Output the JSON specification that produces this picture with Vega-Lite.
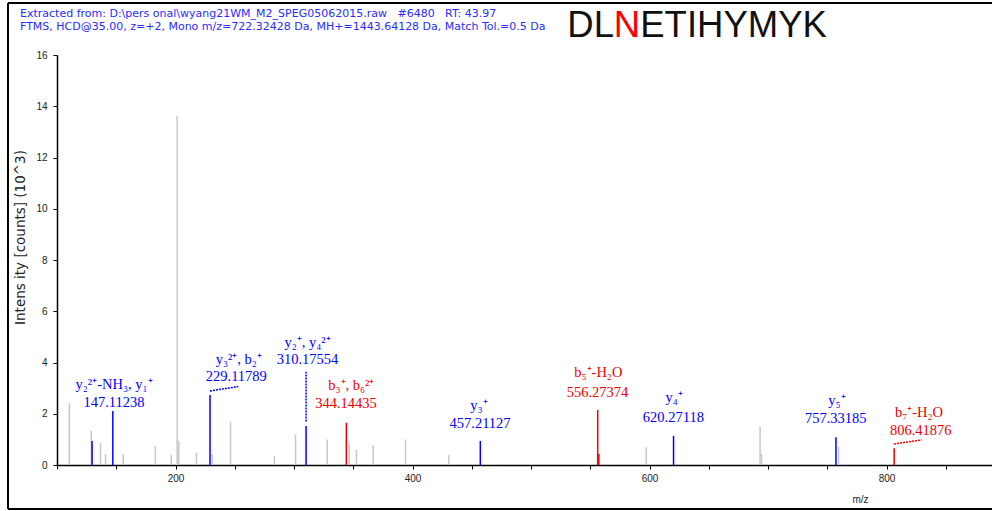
{
  "$schema": "https://vega.github.io/schema/vega-lite/v6.json",
  "width": 935,
  "height": 410,
  "autosize": "none",
  "padding": {"left": 57, "top": 55, "right": 0, "bottom": 46},
  "background": "white",
  "config": {
    "view": {"stroke": null},
    "font": "Liberation Sans",
    "axis": {
      "grid": false,
      "labelFont": "Liberation Sans",
      "labelFontSize": 10,
      "labelColor": "#222222",
      "tickColor": "#000000",
      "domainColor": "#000000",
      "domainWidth": 1.5,
      "tickWidth": 1,
      "titleFont": "Liberation Sans",
      "titleFontWeight": "normal",
      "titleColor": "#222222"
    }
  },
  "datasets": {
    "peaks": [
      {"mz": 110.5, "intensity": 2.41, "ion": "none"},
      {"mz": 128.9, "intensity": 1.34, "ion": "none"},
      {"mz": 136.7, "intensity": 0.85, "ion": "none"},
      {"mz": 141.0, "intensity": 0.43, "ion": "none"},
      {"mz": 155.9, "intensity": 0.43, "ion": "none"},
      {"mz": 183.0, "intensity": 0.74, "ion": "none"},
      {"mz": 196.4, "intensity": 0.39, "ion": "none"},
      {"mz": 201.4, "intensity": 13.62, "ion": "none"},
      {"mz": 202.8, "intensity": 0.95, "ion": "none"},
      {"mz": 217.7, "intensity": 0.48, "ion": "none"},
      {"mz": 231.0, "intensity": 0.43, "ion": "none"},
      {"mz": 246.4, "intensity": 1.69, "ion": "none"},
      {"mz": 283.5, "intensity": 0.35, "ion": "none"},
      {"mz": 301.3, "intensity": 1.2, "ion": "none"},
      {"mz": 328.0, "intensity": 1.0, "ion": "none"},
      {"mz": 346.6, "intensity": 0.85, "ion": "none"},
      {"mz": 352.7, "intensity": 0.59, "ion": "none"},
      {"mz": 366.8, "intensity": 0.78, "ion": "none"},
      {"mz": 394.1, "intensity": 1.0, "ion": "none"},
      {"mz": 430.7, "intensity": 0.39, "ion": "none"},
      {"mz": 597.2, "intensity": 0.69, "ion": "none"},
      {"mz": 693.3, "intensity": 1.49, "ion": "none"},
      {"mz": 694.5, "intensity": 0.43, "ion": "none"},
      {"mz": 759.5, "intensity": 0.71, "ion": "none"},
      {"mz": 129.6, "intensity": 0.94, "ion": "y"},
      {"mz": 147.11238, "intensity": 2.11, "ion": "y"},
      {"mz": 229.11789, "intensity": 2.73, "ion": "y"},
      {"mz": 310.17554, "intensity": 1.52, "ion": "y"},
      {"mz": 457.21127, "intensity": 0.94, "ion": "y"},
      {"mz": 620.27118, "intensity": 1.14, "ion": "y"},
      {"mz": 757.33185, "intensity": 1.08, "ion": "y"},
      {"mz": 344.14435, "intensity": 1.65, "ion": "b"},
      {"mz": 556.27374, "intensity": 2.15, "ion": "b"},
      {"mz": 557.28, "intensity": 0.43, "ion": "b"},
      {"mz": 806.41876, "intensity": 0.65, "ion": "b"}
    ],
    "leaders": [
      {"mz": 229.11789, "v": 2.89, "mz2": 253.0, "v2": 3.06, "ion": "y"},
      {"mz": 310.17554, "v": 1.70, "mz2": 310.17554, "v2": 3.64, "ion": "y"},
      {"mz": 806.41876, "v": 0.82, "mz2": 829.6, "v2": 0.98, "ion": "b"}
    ],
    "labels": [
      {"mz": 148.1, "v": 2.95, "text": "y₂²⁺-NH₃, y₁⁺", "ion": "y"},
      {"mz": 148.1, "v": 2.275, "text": "147.11238", "ion": "y"},
      {"mz": 253.4, "v": 3.95, "text": "y₃²⁺, b₂⁺", "ion": "y"},
      {"mz": 251.3, "v": 3.29, "text": "229.11789", "ion": "y"},
      {"mz": 311.4, "v": 4.6, "text": "y₂⁺, y₄²⁺", "ion": "y"},
      {"mz": 311.4, "v": 3.94, "text": "310.17554", "ion": "y"},
      {"mz": 348.4, "v": 2.93, "text": "b₃⁺, b₆²⁺", "ion": "b"},
      {"mz": 343.9, "v": 2.21, "text": "344.14435", "ion": "b"},
      {"mz": 456.1, "v": 2.13, "text": "y₃⁺", "ion": "y"},
      {"mz": 457.0, "v": 1.44, "text": "457.21127", "ion": "y"},
      {"mz": 556.8, "v": 3.43, "text": "b₅⁺-H₂O", "ion": "b"},
      {"mz": 556.1, "v": 2.67, "text": "556.27374", "ion": "b"},
      {"mz": 620.7, "v": 2.46, "text": "y₄⁺", "ion": "y"},
      {"mz": 620.1, "v": 1.69, "text": "620.27118", "ion": "y"},
      {"mz": 758.2, "v": 2.34, "text": "y₅⁺", "ion": "y"},
      {"mz": 757.2, "v": 1.63, "text": "757.33185", "ion": "y"},
      {"mz": 827.4, "v": 1.89, "text": "b₇⁺-H₂O", "ion": "b"},
      {"mz": 828.9, "v": 1.17, "text": "806.41876", "ion": "b"}
    ],
    "header": [
      {"mz": 68.78, "v": 17.47, "text": "Extracted from: D:\\pers onal\\wyang21WM_M2_SPEG05062015.raw \u00a0 #6480 \u00a0 RT: 43.97", "ion": "header"},
      {"mz": 68.78, "v": 16.98, "text": "FTMS, HCD@35.00, z=+2, Mono m/z=722.32428 Da, MH+=1443.64128 Da, Match Tol.=0.5 Da", "ion": "header"}
    ],
    "sequence": [
      {"mz": 530.6, "v": 16.7, "text": "DL", "ion": "plain"},
      {"mz": 569.9, "v": 16.7, "text": "N", "ion": "modified"},
      {"mz": 592.2, "v": 16.7, "text": "ETIHYMYK", "ion": "plain"}
    ],
    "frame": [
      {"mz": 58.65, "v": -1.72, "mz2": 58.65, "v2": 18.03, "ion": "frame"},
      {"mz": 58.65, "v": 18.03, "mz2": 889, "v2": 18.03, "ion": "frame"},
      {"mz": 58.65, "v": -1.72, "mz2": 889, "v2": -1.72, "ion": "frame"}
    ]
  },
  "encoding": {
    "x": {
      "field": "mz",
      "type": "quantitative",
      "scale": {"domain": [100, 889], "nice": false, "zero": false},
      "axis": {
        "title": "m/z",
        "values": [100, 150, 200, 250, 300, 350, 400, 450, 500, 550, 600, 650, 700, 750, 800, 850],
        "labelExpr": "datum.value % 200 === 0 ? datum.label : ''",
        "tickSize": 4,
        "labelPadding": 4,
        "titleX": 803,
        "titleY": 37,
        "titleAlign": "center",
        "titleBaseline": "alphabetic",
        "titleFontSize": 10
      }
    },
    "color": {
      "field": "ion",
      "type": "nominal",
      "scale": {
        "domain": ["none", "y", "b", "plain", "modified", "header", "frame"],
        "range": ["#c8c8c8", "#0000ff", "#ee0000", "#111111", "#ff0000", "#2b2bff", "#000000"]
      },
      "legend": null
    }
  },
  "layer": [
    {
      "data": {"name": "peaks"},
      "mark": {"type": "rule", "strokeWidth": 1.5},
      "encoding": {
        "y": {
          "field": "intensity",
          "type": "quantitative",
          "scale": {"domain": [0, 16], "nice": false, "zero": true},
          "axis": {
            "title": "Intens ity [counts] (10^3)",
            "values": [0, 0.5, 1, 1.5, 2, 2.5, 3, 3.5, 4, 4.5, 5, 5.5, 6, 6.5, 7, 7.5, 8, 8.5, 9, 9.5, 10, 10.5, 11, 11.5, 12, 12.5, 13, 13.5, 14, 14.5, 15, 15.5, 16],
            "labelExpr": "datum.value % 2 === 0 ? datum.label : ''",
            "tickSize": {"condition": {"test": "datum.value % 2 === 0", "value": 4}, "value": 2},
            "labelPadding": 6,
            "titleFont": "DejaVu Sans",
            "titleFontSize": 13.5,
            "titleX": -37,
            "titleY": 182,
            "titleAngle": 270,
            "titleAlign": "center",
            "titleBaseline": "middle"
          }
        },
        "y2": {"datum": 0}
      }
    },
    {
      "data": {"name": "leaders"},
      "mark": {"type": "rule", "strokeWidth": 1.5, "strokeDash": [2, 1]},
      "encoding": {
        "y": {"field": "v", "type": "quantitative"},
        "x2": {"field": "mz2"},
        "y2": {"field": "v2"}
      }
    },
    {
      "data": {"name": "labels"},
      "mark": {"type": "text", "font": "Liberation Serif", "fontSize": 14.5, "align": "center", "baseline": "alphabetic"},
      "encoding": {
        "y": {"field": "v", "type": "quantitative"},
        "text": {"field": "text"}
      }
    },
    {
      "data": {"name": "header"},
      "mark": {"type": "text", "font": "DejaVu Sans", "fontSize": 11, "align": "left", "baseline": "alphabetic"},
      "encoding": {
        "y": {"field": "v", "type": "quantitative"},
        "text": {"field": "text"}
      }
    },
    {
      "data": {"name": "sequence"},
      "mark": {"type": "text", "font": "Liberation Sans", "fontSize": 36.5, "align": "left", "baseline": "alphabetic"},
      "encoding": {
        "y": {"field": "v", "type": "quantitative"},
        "text": {"field": "text"}
      }
    },
    {
      "data": {"name": "frame"},
      "mark": {"type": "rule", "strokeWidth": 2},
      "encoding": {
        "y": {"field": "v", "type": "quantitative"},
        "x2": {"field": "mz2"},
        "y2": {"field": "v2"}
      }
    }
  ]
}
